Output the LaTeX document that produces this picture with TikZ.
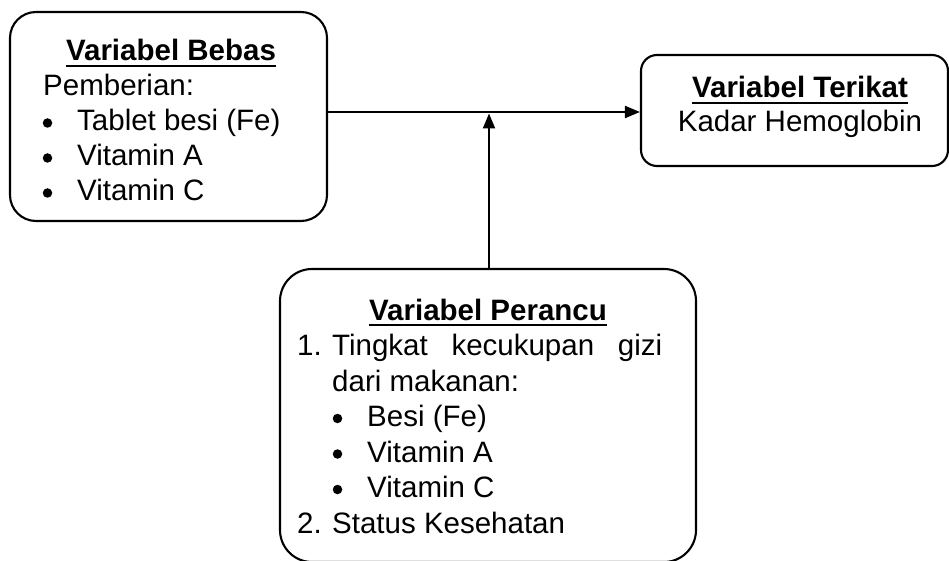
\documentclass[tikz,border=0pt]{standalone}
\usepackage{fontspec}
\setmainfont{Liberation Sans}
\usetikzlibrary{arrows.meta}

\begin{document}
\begin{tikzpicture}[x=1pt,y=-1pt,
        varbox/.style={draw,line width=2.1pt,inner sep=0pt},
        txt/.style={inner sep=0pt,font=\fontsize{29.5}{35}\selectfont},
        head/.style={txt,anchor=base,font=\fontsize{29.5}{35}\selectfont\bfseries},
        item/.style={txt,anchor=base west},
        dot/.style={circle,fill,inner sep=0pt,minimum size=9.5pt},
        uline/.style={line width=2.2pt},
        conn/.style={line width=2.1pt,-{Triangle[length=15pt,width=12pt]}}]

        \useasboundingbox (0,0) rectangle (949,561);

        % kotak variabel
        \node[varbox,rounded corners=26pt,minimum width=317pt,minimum height=209pt] (bebas) at (168.5,116.5) {};
        \node[varbox,rounded corners=16pt,minimum width=307pt,minimum height=111pt] (terikat) at (794.5,110.5) {};
        \node[varbox,rounded corners=32pt,minimum width=416pt,minimum height=293pt] (perancu) at (488,415.5) {};

        % variabel bebas
        \node[head] (hbebas) at (171,61) {Variabel Bebas};
        \draw[uline] ([yshift=-5pt]hbebas.base west) -- ([yshift=-5pt]hbebas.base east);
        \node[item] (pemberian) at (43,96) {Pemberian:};
        \node[dot] (b1) at (47.5,123) {};
        \node[item] (fe) at (77,131) {Tablet besi (Fe)};
        \node[dot] (b2) at (47.5,158) {};
        \node[item] (vita) at (77,166) {Vitamin A};
        \node[dot] (b3) at (47.5,193) {};
        \node[item] (vitc) at (77,201) {Vitamin C};

        % variabel terikat
        \node[head] (hterikat) at (800,98) {Variabel Terikat};
        \draw[uline] ([yshift=-5pt]hterikat.base west) -- ([yshift=-5pt]hterikat.base east);
        \node[txt,anchor=base] (hb) at (800,132) {Kadar Hemoglobin};

        % variabel perancu
        \node[head] (hperancu) at (488,320) {Variabel Perancu};
        \draw[uline] ([yshift=-5pt]hperancu.base west) -- ([yshift=-5pt]hperancu.base east);
        \node[item] (n1) at (297,355.5) {1.};
        \node[item] (gizi) at (332,355.5) {\makebox[330pt][s]{Tingkat kecukupan gizi}};
        \node[item] (makanan) at (332,391) {dari makanan:};
        \node[dot] (p1) at (337.5,418.5) {};
        \node[item] (pfe) at (367,426.5) {Besi (Fe)};
        \node[dot] (p2) at (337.5,454) {};
        \node[item] (pvita) at (367,462) {Vitamin A};
        \node[dot] (p3) at (337.5,489.5) {};
        \node[item] (pvitc) at (367,497.5) {Vitamin C};
        \node[item] (n2) at (297,533) {2.};
        \node[item] (status) at (332,533) {Status Kesehatan};

        % panah
        \coordinate (temu) at (489,112);
        \draw[conn] (bebas.east |- temu) -- (terikat.west |- temu);
        \draw[conn] (perancu.north -| temu) -- ([yshift=-1.5pt]temu);

    \end{tikzpicture}
\end{document}
